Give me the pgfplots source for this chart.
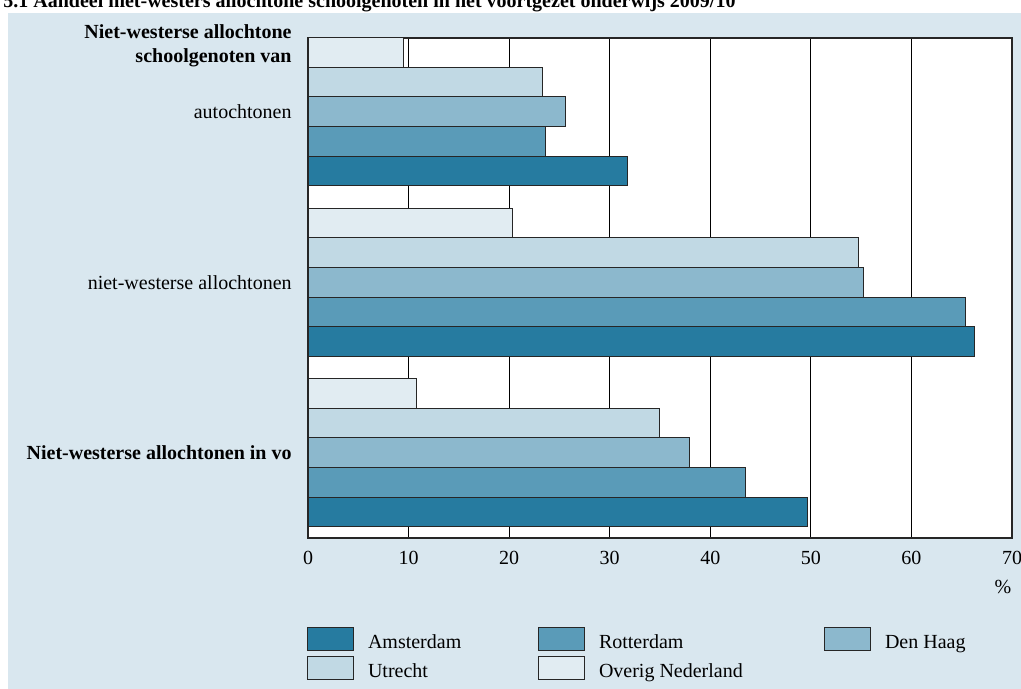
\documentclass[border=0pt]{standalone}
\usepackage{fontspec}
\setmainfont{Liberation Serif}
\usepackage{pgfplots}
\pgfplotsset{compat=1.18}
\definecolor{bg}{HTML}{D9E7EF}
\definecolor{cAms}{HTML}{267BA0}
\definecolor{cRot}{HTML}{5A9BB8}
\definecolor{cDH}{HTML}{8CB8CD}
\definecolor{cUtr}{HTML}{C1D9E4}
\definecolor{cOv}{HTML}{E1ECF2}
\pgfplotsset{
  mybar/.style={fill=#1, draw=black!85, line width=0.5pt, bar shift=0pt,
    legend image code/.code={\draw[##1] (0pt,-1pt) rectangle (23pt,10.5pt);}},
}
\begin{document}
\begin{tikzpicture}
\useasboundingbox (0,0) rectangle (510.5pt,344.5pt);
\clip (0,0) rectangle (510.5pt,344.5pt);
\fill[bg] (4pt,0) rectangle (510.5pt,338pt);
\node[anchor=base west, inner sep=0pt, font=\bfseries] at (1.5pt,340.5pt)
  {5.1 Aandeel niet-westers allochtone schoolgenoten in het voortgezet onderwijs 2009/10};
\begin{axis}[
  at={(154pt,75.5pt)}, anchor=south west,
  scale only axis, width=352pt, height=250pt,
  xmin=0, xmax=70, ymin=0, ymax=500,
  xbar, bar width=29.6,
  axis background/.style={fill=white},
  axis line style={black!85, line width=0.6pt},
  xmajorgrids, grid style={black, line width=0.5pt},
  xtick={0,10,...,70},
  major tick length=0pt,
  /pgf/number format/assume math mode=true,
  xticklabel style={inner sep=0pt, yshift=-6.5pt},
  ytick={85.2,255.7,426.2},
  yticklabels={\textbf{Niet-westerse allochtonen in vo}, niet-westerse allochtonen, autochtonen},
  yticklabel style={anchor=east, inner sep=0pt, xshift=-8pt},
  legend columns=3,
  legend style={at={(-0.0014,-0.1774)}, anchor=north west, draw=none, fill=none,
    inner sep=0pt, outer sep=0pt, row sep=2.3pt, column sep=0pt,
    cells={anchor=base west}, nodes={inner sep=0pt},
    /tikz/every odd column/.append style={column sep=7pt}},
  clip=false,
]
\addplot[mybar=cAms] coordinates {(31.8,367) (66.3,196.5) (49.7,26)};
\addlegendentry{\makebox[85pt][l]{Amsterdam}}
\addplot[mybar=cRot] coordinates {(23.6,396.6) (65.4,226.1) (43.5,55.6)};
\addlegendentry{\makebox[112.5pt][l]{Rotterdam}}
\addplot[mybar=cDH] coordinates {(25.6,426.2) (55.2,255.7) (37.9,85.2)};
\addlegendentry{Den Haag}
\addplot[mybar=cUtr] coordinates {(23.3,455.8) (54.7,285.3) (34.9,114.8)};
\addlegendentry{\makebox[85pt][l]{Utrecht}}
\addplot[mybar=cOv] coordinates {(9.5,485.4) (20.3,314.9) (10.8,144.4)};
\addlegendentry{\makebox[112.5pt][l]{Overig Nederland}}
\node[anchor=east, align=right, font=\bfseries, inner sep=0pt, xshift=-8pt]
  at (axis cs:0,492) {\fontsize{10}{9.5}\selectfont Niet-westerse allochtone\\schoolgenoten van};
\node at (rel axis cs:1,0) [xshift=-4.5pt, yshift=-24.5pt] {\%};
\end{axis}
\end{tikzpicture}
\end{document}
